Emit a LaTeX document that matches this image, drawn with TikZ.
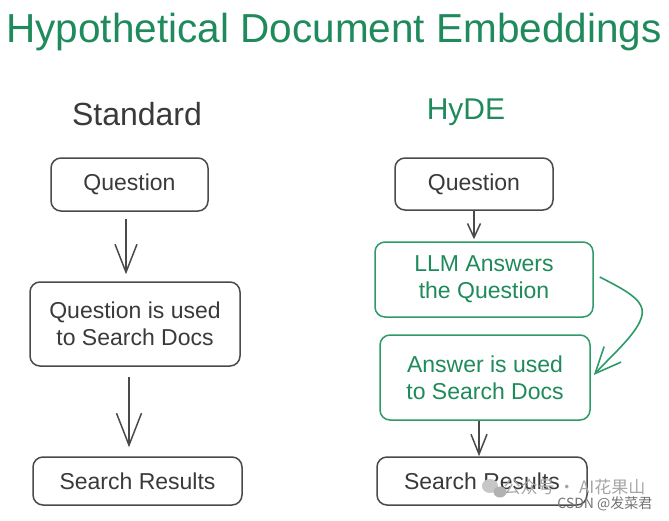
\documentclass[tikz,border=0pt]{standalone}
\usepackage{fontspec}
\setmainfont{Liberation Sans}
\newfontfamily\cjkfont{Noto Sans CJK SC}
\usetikzlibrary{arrows.meta}
\definecolor{hgreen}{HTML}{1F8A5B}
\definecolor{bgreen}{HTML}{2E9A68}
\definecolor{gtext}{HTML}{3A3A3A}
\definecolor{gline}{HTML}{4A4A4A}
\tikzset{
  box/.style={draw=gline, line width=1.5pt, rounded corners=10pt, text=gtext,
    font=\fontsize{23}{27}\selectfont, align=center, inner sep=0pt},
  gbox/.style={box, draw=bgreen, text=hgreen},
  arr/.style={draw=gline, line width=1.5pt, -{Straight Barb[length=28pt,width=22pt,line width=1.5pt]}},
  arrb/.style={draw=gline, line width=1.5pt, -{Straight Barb[length=32pt,width=25pt,line width=1.5pt]}},
  sarr/.style={draw=gline, line width=1.5pt, -{Straight Barb[length=14pt,width=13pt,line width=1.5pt]}},
  marr/.style={draw=gline, line width=1.5pt, -{Straight Barb[length=20pt,width=16pt,line width=1.5pt]}},
  garr/.style={draw=bgreen, line width=1.6pt, -{Straight Barb[length=26pt,width=23pt,line width=1.6pt]}},
}
\begin{document}
\begin{tikzpicture}[x=1pt,y=-1pt]
\useasboundingbox[fill=white] (0,0) rectangle (669,520);
\node[text=hgreen, font=\fontsize{40.5}{44}\selectfont] (title) at (334,32) {Hypothetical Document Embeddings};
\node[text=gtext, font=\fontsize{32}{36}\selectfont] (std) at (137,114) {Standard};
\node[text=hgreen, font=\fontsize{30}{34}\selectfont] (hyde) at (466,112) {HyDE};
% Standard
\node[box, minimum width=157pt, minimum height=53pt] (lq) at (129.5,184.5) {Question};
\node[box, minimum width=210pt, minimum height=84pt] (lm) at (135,324) {Question is used\\to Search Docs};
\node[box, minimum width=209pt, minimum height=48pt] (ls) at (137.5,481) {Search Results};
\draw[arr, shorten <=7pt, shorten >=7pt] (lq.south -| 126,0) -- (lm.north -| 126,0);
\draw[arrb, shorten <=10pt, shorten >=9pt] (lm.south -| 129,0) -- (ls.north -| 129,0);
% HyDE
\node[box, minimum width=158pt, minimum height=52pt] (rq) at (474,184) {Question};
\node[gbox, minimum width=218pt, minimum height=75pt] (llm) at (484,279.5) {LLM Answers\\the Question};
\node[gbox, minimum width=210pt, minimum height=85pt] (ans) at (485,377.5) {Answer is used\\to Search Docs};
\node[box, minimum width=210pt, minimum height=48pt] (rs) at (482,481) {Search Results};
\coordinate (cmid) at (642,315);
\draw[sarr, shorten >=2pt] (rq.south) -- (llm.north -| rq.south);
\draw[marr] (ans.south -| 479,0) -- (rs.north -| 479,0);
\draw[garr] ([xshift=6pt,yshift=2.5pt]llm.east) .. controls (625,290) and (645,300) .. (cmid)
  .. controls (639,332) and (612,355) .. ([xshift=3pt,yshift=2.5pt]ans.east);
% watermark
\fill[black!22] (490,486) ellipse (8pt and 7pt);
\fill[black!30] (500,492) ellipse (6.5pt and 5.5pt);
\node[text=black!35, font=\cjkfont\fontsize{17}{20}\selectfont, anchor=west] (wm1) at (500,487) {公众号 · AI花果山};
\node[text=black!55, font=\cjkfont\fontsize{14}{16}\selectfont, anchor=east] (wm2) at (656,504) {CSDN @发菜君};
\end{tikzpicture}
\end{document}
